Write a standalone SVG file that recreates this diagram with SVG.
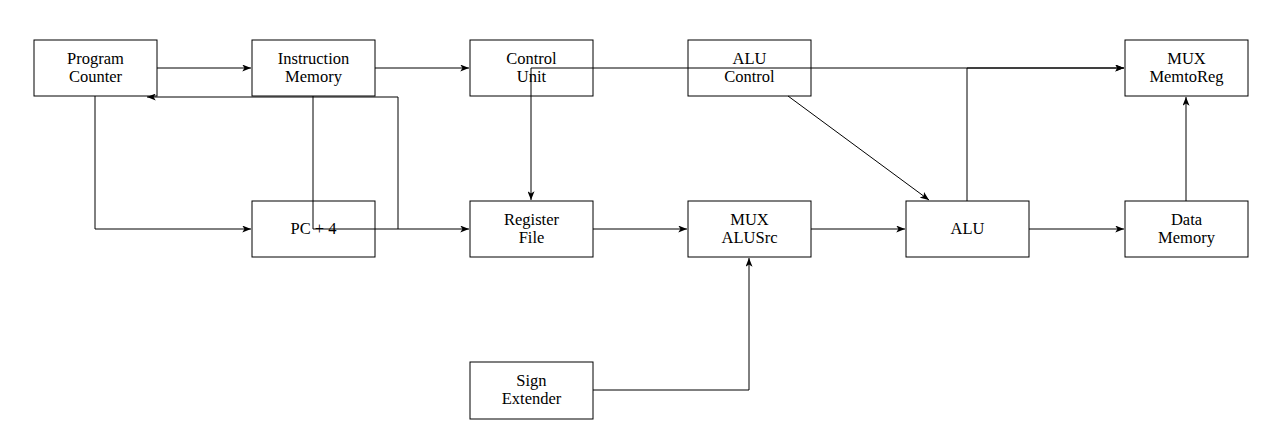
<svg xmlns="http://www.w3.org/2000/svg" width="1268" height="441" viewBox="0 0 1268 441">
<defs>
<marker id="ah" viewBox="0 0 10 8" refX="10" refY="4" markerWidth="9" markerHeight="7" markerUnits="userSpaceOnUse" orient="auto">
<path d="M0,0 L10,4 L0,8 L2.5,4 z" fill="#000"/>
</marker>
<style>
.box{fill:none;stroke:#000;stroke-width:1}
.lbl{font-family:"Liberation Serif","DejaVu Serif",serif;font-size:16.5px;fill:#000;text-anchor:middle}
.c{fill:none;stroke:#000;stroke-width:1}
.a{marker-end:url(#ah)}
</style>
</defs>
<rect width="1268" height="441" fill="#fff"/>
<g id="connectors">
<path class="c a" d="M157,68 H251"/>
<path class="c a" d="M375,68 H469"/>
<path class="c a" d="M531,68 H1124"/>
<path class="c a" d="M531,68 V200"/>
<path class="c a" d="M313,96 V229 H469"/>
<path class="c a" d="M398,229 V97 H147"/>
<path class="c a" d="M95,96 V229 H251"/>
<path class="c a" d="M593,229 H687"/>
<path class="c a" d="M811,229 H905"/>
<path class="c a" d="M1029,229 H1124"/>
<path class="c a" d="M1186,201 V97"/>
<path class="c a" d="M967,201 V68 H1124"/>
<path class="c a" d="M788,96 L929,200"/>
<path class="c a" d="M593,390 H749 V258"/>
</g>
<g id="pc"><rect class="box" x="34" y="40" width="123" height="56"/><text class="lbl" x="95.5" y="64">Program</text><text class="lbl" x="95.5" y="82">Counter</text></g>
<g id="imem"><rect class="box" x="252" y="40" width="123" height="56"/><text class="lbl" x="313.5" y="64">Instruction</text><text class="lbl" x="313.5" y="82">Memory</text></g>
<g id="ctrl"><rect class="box" x="470" y="40" width="123" height="56"/><text class="lbl" x="531.5" y="64">Control</text><text class="lbl" x="531.5" y="82">Unit</text></g>
<g id="aluctrl"><rect class="box" x="688" y="40" width="123" height="56"/><text class="lbl" x="749.5" y="64">ALU</text><text class="lbl" x="749.5" y="82">Control</text></g>
<g id="muxmem"><rect class="box" x="1125" y="40" width="123" height="56"/><text class="lbl" x="1186.5" y="64">MUX</text><text class="lbl" x="1186.5" y="82">MemtoReg</text></g>
<g id="pc4"><rect class="box" x="252" y="201" width="123" height="56"/><text class="lbl" x="313.5" y="234">PC + 4</text></g>
<g id="regfile"><rect class="box" x="470" y="201" width="123" height="56"/><text class="lbl" x="531.5" y="225">Register</text><text class="lbl" x="531.5" y="243">File</text></g>
<g id="muxalu"><rect class="box" x="688" y="201" width="123" height="56"/><text class="lbl" x="749.5" y="225">MUX</text><text class="lbl" x="749.5" y="243">ALUSrc</text></g>
<g id="alu"><rect class="box" x="906" y="201" width="123" height="56"/><text class="lbl" x="967.5" y="234">ALU</text></g>
<g id="dmem"><rect class="box" x="1125" y="201" width="123" height="56"/><text class="lbl" x="1186.5" y="225">Data</text><text class="lbl" x="1186.5" y="243">Memory</text></g>
<g id="signext"><rect class="box" x="470" y="362" width="123" height="57"/><text class="lbl" x="531.5" y="386">Sign</text><text class="lbl" x="531.5" y="404">Extender</text></g>
</svg>
